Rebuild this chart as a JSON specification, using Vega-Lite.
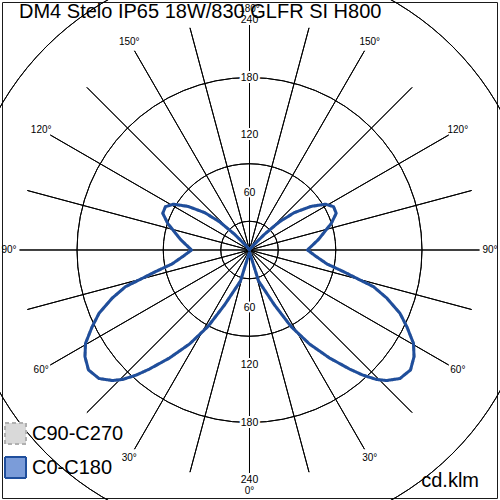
{
  "$schema": "https://vega.github.io/schema/vega-lite/v6.json",
  "description": "DM4 Stelo IP65 18W/830 GLFR SI H800 — polar luminous intensity diagram (cd/klm)",
  "width": 495,
  "height": 496,
  "autosize": {"type": "none"},
  "padding": {"left": 2, "top": 2, "right": 3, "bottom": 2},
  "background": "white",
  "config": {
    "view": {"stroke": "#1a1a1a", "strokeWidth": 1},
    "font": "Liberation Sans"
  },
  "datasets": {
    "curve": [
      {"k": 0, "x": 0, "y": -2.1},
      {"k": 1, "x": 9.4, "y": -32.3},
      {"k": 2, "x": 26.1, "y": -57.4},
      {"k": 3, "x": 43.3, "y": -79.8},
      {"k": 4, "x": 62.6, "y": -98.1},
      {"k": 5, "x": 83.5, "y": -112.7},
      {"k": 6, "x": 104.4, "y": -124.2},
      {"k": 7, "x": 117.9, "y": -130.4},
      {"k": 8, "x": 132.5, "y": -135.1},
      {"k": 9, "x": 143.0, "y": -136.2},
      {"k": 10, "x": 157.0, "y": -134.1},
      {"k": 11, "x": 168.0, "y": -125.2},
      {"k": 12, "x": 171.7, "y": -111.3},
      {"k": 13, "x": 171.1, "y": -97.4},
      {"k": 14, "x": 164.3, "y": -80.3},
      {"k": 15, "x": 157.0, "y": -66.1},
      {"k": 16, "x": 143.5, "y": -50.4},
      {"k": 17, "x": 129.4, "y": -38.3},
      {"k": 18, "x": 115.3, "y": -31.3},
      {"k": 19, "x": 98.1, "y": -22.6},
      {"k": 20, "x": 80.9, "y": -14.6},
      {"k": 21, "x": 68.9, "y": -6.3},
      {"k": 22, "x": 60.5, "y": 0},
      {"k": 23, "x": 72.0, "y": 11.0},
      {"k": 24, "x": 85.3, "y": 27.7},
      {"k": 25, "x": 90.5, "y": 38.3},
      {"k": 26, "x": 87.7, "y": 45.2},
      {"k": 27, "x": 79.3, "y": 47.8},
      {"k": 28, "x": 64.2, "y": 45.5},
      {"k": 29, "x": 47.0, "y": 39.1},
      {"k": 30, "x": 31.3, "y": 29.5},
      {"k": 31, "x": 15.7, "y": 16.5},
      {"k": 32, "x": 2.6, "y": 3.4},
      {"k": 33, "x": 0, "y": 0},
      {"k": 34, "x": -2.6, "y": 3.4},
      {"k": 35, "x": -15.7, "y": 16.5},
      {"k": 36, "x": -31.3, "y": 29.5},
      {"k": 37, "x": -47.0, "y": 39.1},
      {"k": 38, "x": -64.2, "y": 45.5},
      {"k": 39, "x": -79.3, "y": 47.8},
      {"k": 40, "x": -87.7, "y": 45.2},
      {"k": 41, "x": -90.5, "y": 38.3},
      {"k": 42, "x": -85.3, "y": 27.7},
      {"k": 43, "x": -72.0, "y": 11.0},
      {"k": 44, "x": -60.5, "y": 0},
      {"k": 45, "x": -68.9, "y": -6.3},
      {"k": 46, "x": -80.9, "y": -14.6},
      {"k": 47, "x": -98.1, "y": -22.6},
      {"k": 48, "x": -115.3, "y": -31.3},
      {"k": 49, "x": -129.4, "y": -38.3},
      {"k": 50, "x": -143.5, "y": -50.4},
      {"k": 51, "x": -157.0, "y": -66.1},
      {"k": 52, "x": -164.3, "y": -80.3},
      {"k": 53, "x": -171.1, "y": -97.4},
      {"k": 54, "x": -171.7, "y": -111.3},
      {"k": 55, "x": -168.0, "y": -125.2},
      {"k": 56, "x": -157.0, "y": -134.1},
      {"k": 57, "x": -143.0, "y": -136.2},
      {"k": 58, "x": -132.5, "y": -135.1},
      {"k": 59, "x": -117.9, "y": -130.4},
      {"k": 60, "x": -104.4, "y": -124.2},
      {"k": 61, "x": -83.5, "y": -112.7},
      {"k": 62, "x": -62.6, "y": -98.1},
      {"k": 63, "x": -43.3, "y": -79.8},
      {"k": 64, "x": -26.1, "y": -57.4},
      {"k": 65, "x": -9.4, "y": -32.3},
      {"k": 66, "x": 0, "y": -2.1}
    ],
    "rings": [
      {"r": 30}, {"r": 60}, {"r": 90}, {"r": 120}, {"r": 150}, {"r": 180}, {"r": 210}, {"r": 240}
    ],
    "spokes": [
      {"a": 0}, {"a": 15}, {"a": 30}, {"a": 45}, {"a": 60}, {"a": 75}, {"a": 90}, {"a": 105},
      {"a": 120}, {"a": 135}, {"a": 150}, {"a": 165}, {"a": 180}, {"a": 195}, {"a": 210}, {"a": 225},
      {"a": 240}, {"a": 255}, {"a": 270}, {"a": 285}, {"a": 300}, {"a": 315}, {"a": 330}, {"a": 345}
    ],
    "values": [
      {"r": 60, "t": 0}, {"r": 120, "t": 0}, {"r": 180, "t": 0}, {"r": 240, "t": 0},
      {"r": 60, "t": 180}, {"r": 120, "t": 180}, {"r": 180, "t": 180}, {"r": 240, "t": 180}
    ],
    "angles": [
      {"lab": "0°", "t": 180},
      {"lab": "30°", "t": 150}, {"lab": "30°", "t": 210},
      {"lab": "60°", "t": 120}, {"lab": "60°", "t": 240},
      {"lab": "90°", "t": 90}, {"lab": "90°", "t": 270},
      {"lab": "120°", "t": 60}, {"lab": "120°", "t": 300},
      {"lab": "150°", "t": 30}, {"lab": "150°", "t": 330},
      {"lab": "180°", "t": 0}
    ]
  },
  "layer": [
    {
      "data": {"name": "rings"},
      "mark": {"type": "arc", "filled": false, "stroke": "black", "strokeWidth": 1, "theta": 0, "theta2": 6.2832},
      "encoding": {
        "radius": {"field": "r", "type": "quantitative", "scale": {"type": "linear", "domain": [0, 240], "range": [0, 230], "zero": true, "nice": false}}
      }
    },
    {
      "data": {"name": "spokes"},
      "mark": {"type": "arc", "filled": false, "stroke": "black", "strokeWidth": 1, "radius2": 0},
      "encoding": {
        "theta": {"field": "a", "type": "quantitative", "stack": null, "scale": {"type": "linear", "domain": [0, 360], "range": [0, 6.2832], "zero": true, "nice": false}},
        "theta2": {"field": "a"},
        "radius": {"datum": 240, "type": "quantitative"}
      }
    },
    {
      "data": {"name": "curve"},
      "mark": {"type": "line", "strokeWidth": 3},
      "encoding": {
        "x": {"field": "x", "type": "quantitative", "axis": null, "scale": {"domain": [-258.26, 258.26], "nice": false, "zero": false}},
        "y": {"field": "y", "type": "quantitative", "axis": null, "scale": {"domain": [-258.78, 258.78], "nice": false, "zero": false}},
        "order": {"field": "k", "type": "quantitative"},
        "stroke": {"datum": "C90-C270", "type": "nominal"},
        "strokeDash": {"datum": "C90-C270", "type": "nominal"}
      }
    },
    {
      "data": {"name": "curve"},
      "mark": {"type": "line", "strokeWidth": 3, "strokeJoin": "round"},
      "encoding": {
        "x": {"field": "x", "type": "quantitative"},
        "y": {"field": "y", "type": "quantitative"},
        "order": {"field": "k", "type": "quantitative"},
        "stroke": {
          "datum": "C0-C180",
          "type": "nominal",
          "scale": {"domain": ["C90-C270", "C0-C180"], "range": ["#b0b0b0", "#1f4e9c"]},
          "legend": {
            "title": null,
            "orient": "none",
            "legendX": 2,
            "legendY": 420,
            "direction": "vertical",
            "padding": 0,
            "symbolType": "square",
            "symbolSize": 441,
            "symbolStrokeWidth": 2,
            "labelFont": "Liberation Sans",
            "labelFontSize": 20,
            "labelColor": "black",
            "labelOffset": 5,
            "rowPadding": 5,
            "encode": {
              "symbols": {
                "update": {
                  "fill": {"signal": "datum.value === 'C0-C180' ? '#7b9cd9' : '#d9d9d9'"},
                  "fillOpacity": {"value": 1},
                  "opacity": {"value": 1}
                }
              }
            }
          }
        },
        "strokeDash": {
          "datum": "C0-C180",
          "type": "nominal",
          "scale": {"domain": ["C90-C270", "C0-C180"], "range": [[4, 3], [1, 0]]},
          "legend": {
            "title": null,
            "orient": "none",
            "legendX": 2,
            "legendY": 420,
            "direction": "vertical",
            "padding": 0,
            "symbolType": "square",
            "symbolSize": 441,
            "symbolStrokeWidth": 2,
            "labelFont": "Liberation Sans",
            "labelFontSize": 20,
            "labelColor": "black",
            "labelOffset": 5,
            "rowPadding": 5
          }
        }
      }
    },
    {
      "data": {"name": "values"},
      "mark": {"type": "text", "fontSize": 10.5, "align": "center", "baseline": "middle", "stroke": "white", "strokeWidth": 4, "color": "white"},
      "encoding": {
        "theta": {"field": "t", "type": "quantitative", "stack": null},
        "radius": {"field": "r", "type": "quantitative"},
        "text": {"field": "r", "type": "quantitative"}
      }
    },
    {
      "data": {"name": "values"},
      "mark": {"type": "text", "fontSize": 10.5, "align": "center", "baseline": "middle", "color": "black"},
      "encoding": {
        "theta": {"field": "t", "type": "quantitative", "stack": null},
        "radius": {"field": "r", "type": "quantitative"},
        "text": {"field": "r", "type": "quantitative"}
      }
    },
    {
      "data": {"name": "angles"},
      "mark": {"type": "text", "fontSize": 10, "align": "center", "baseline": "middle", "color": "black"},
      "encoding": {
        "theta": {"field": "t", "type": "quantitative", "stack": null},
        "radius": {"datum": 251, "type": "quantitative"},
        "text": {"field": "lab", "type": "nominal"}
      }
    },
    {
      "data": {"values": [{"unit": "cd.klm"}]},
      "mark": {"type": "text", "fontSize": 20, "align": "right", "baseline": "alphabetic", "color": "black"},
      "encoding": {
        "x": {"datum": 239.5, "type": "quantitative"},
        "y": {"datum": -247.3, "type": "quantitative"},
        "text": {"field": "unit", "type": "nominal"}
      }
    },
    {
      "data": {"values": [{"title": "DM4 Stelo IP65 18W/830 GLFR SI H800"}]},
      "mark": {"type": "text", "fontSize": 20, "align": "left", "baseline": "alphabetic", "color": "black"},
      "encoding": {
        "x": {"datum": -240.5, "type": "quantitative"},
        "y": {"datum": 241.6, "type": "quantitative"},
        "text": {"field": "title", "type": "nominal"}
      }
    }
  ]
}
